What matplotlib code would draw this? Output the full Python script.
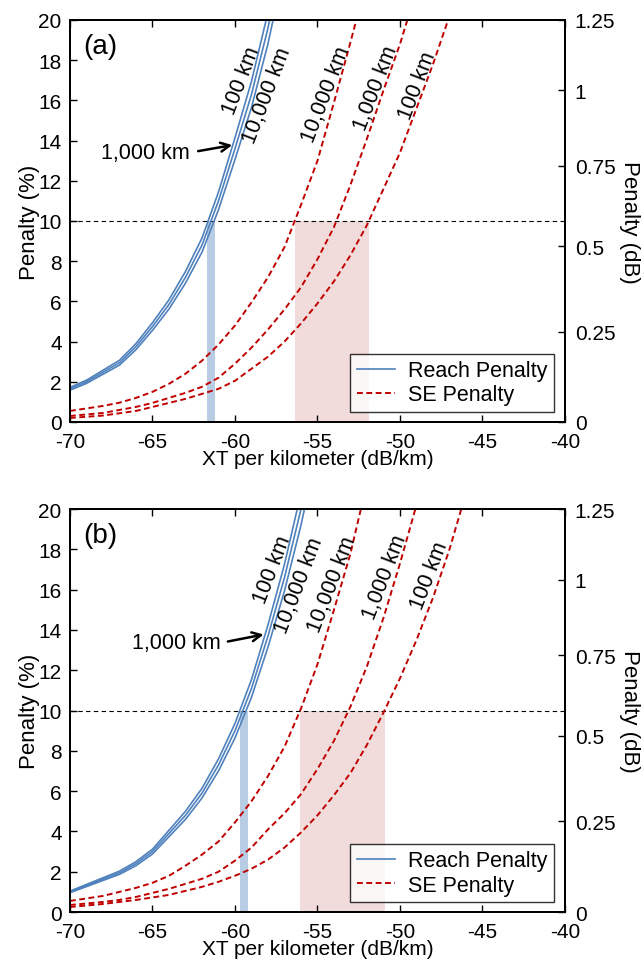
import matplotlib
matplotlib.use('Agg')
import matplotlib.pyplot as plt

plt.rcParams['font.family'] = ['Liberation Sans', 'DejaVu Sans']
plt.rcParams['axes.unicode_minus'] = False

# ---- panel (a) data ----
xt_reach_a = [-70, -69, -67, -66, -65, -64, -63, -62, -61, -60, -59, -58, -57.5]
reach_a_100 = [1.72, 2.08, 3.07, 3.9, 4.94, 6.08, 7.49, 9.15, 11.44, 14.14, 16.95, 20.38, 22.46]
reach_a_1000 = [1.65, 2.0, 2.95, 3.75, 4.75, 5.85, 7.2, 8.8, 11.0, 13.6, 16.3, 19.6, 21.6]
reach_a_10000 = [1.58, 1.92, 2.83, 3.6, 4.56, 5.62, 6.91, 8.45, 10.56, 13.06, 15.65, 18.82, 20.74]

xt_se_a_10000 = [-70, -68, -67, -66, -65, -64, -63, -62, -61, -60, -59, -58, -57, -56, -55, -54, -53, -52]
se_a_10000 = [0.55, 0.8, 0.96, 1.2, 1.5, 1.9, 2.4, 3.05, 3.85, 4.8, 5.95, 7.2, 8.7, 10.8, 13.0, 15.9, 18.9, 22.0]
xt_se_a_1000 = [-70, -68, -66, -65, -64, -63, -62, -61, -60, -59, -58, -57, -56, -55, -54, -53, -52, -51, -50, -49]
se_a_1000 = [0.3, 0.45, 0.75, 0.95, 1.2, 1.45, 1.75, 2.2, 2.9, 3.7, 4.6, 5.6, 6.7, 8.1, 9.7, 11.8, 14.1, 16.5, 18.8, 21.5]
xt_se_a_100 = [-70, -68, -66, -65, -64, -63, -62, -61, -60, -59, -58, -57, -56, -55, -54, -53, -52, -51, -50, -49, -48, -47, -46.5]
se_a_100 = [0.2, 0.32, 0.55, 0.75, 0.95, 1.15, 1.4, 1.65, 2.05, 2.65, 3.25, 4.0, 4.9, 5.9, 7.0, 8.3, 9.8, 11.6, 13.4, 15.6, 17.8, 20.2, 21.4]

reach_band_a = [-61.72, -61.21]
se_band_a = [-56.36, -51.86]

# ---- panel (b) data ----
xt_reach_b = [-70, -67, -66, -65, -64, -63, -62, -61, -60, -59, -58, -57, -56, -55.5]
reach_b_100 = [1.04, 2.03, 2.5, 3.12, 4.06, 5.0, 6.14, 7.6, 9.36, 11.54, 14.25, 17.26, 20.8, 22.9]
reach_b_1000 = [1.0, 1.95, 2.4, 3.0, 3.9, 4.8, 5.9, 7.3, 9.0, 11.1, 13.7, 16.6, 20.0, 22.0]
reach_b_10000 = [0.96, 1.87, 2.3, 2.88, 3.74, 4.6, 5.66, 7.0, 8.64, 10.66, 13.15, 15.94, 19.2, 21.1]

xt_se_b_10000 = [-70, -68, -67, -66, -65, -64, -63, -62, -61, -60, -59, -58, -57, -56, -55, -54, -53, -52]
se_b_10000 = [0.55, 0.8, 1.0, 1.2, 1.45, 1.8, 2.3, 2.85, 3.5, 4.45, 5.5, 6.75, 8.2, 10.1, 12.3, 15.0, 17.8, 21.3]
xt_se_b_1000 = [-70, -68, -67, -66, -65, -64, -63, -62, -61, -60, -59, -58, -57, -56, -55, -54, -53, -52, -51, -50, -49]
se_b_1000 = [0.35, 0.5, 0.6, 0.75, 0.95, 1.15, 1.4, 1.65, 2.0, 2.55, 3.2, 4.1, 4.9, 5.85, 7.1, 8.5, 10.2, 12.2, 14.6, 17.3, 20.2]
xt_se_b_100 = [-70, -68, -66, -64, -63, -62, -61, -60, -59, -58, -57, -56, -55, -54, -53, -52, -51, -50, -49, -48, -47, -46]
se_b_100 = [0.25, 0.4, 0.6, 0.85, 1.05, 1.25, 1.5, 1.8, 2.15, 2.6, 3.2, 3.95, 4.8, 5.8, 6.9, 8.3, 9.9, 11.6, 13.5, 15.6, 18.0, 20.8]

reach_band_b = [-59.7, -59.23]
se_band_b = [-56.06, -50.9]

threshold = 10
x_ticks = [-70, -65, -60, -55, -50, -45, -40]
y_ticks = [0, 2, 4, 6, 8, 10, 12, 14, 16, 18, 20]
db_tick_pos = [0, 4.5, 8.75, 12.75, 16.5, 20]
db_tick_labels = ['0', '0.25', '0.5', '0.75', '1', '1.25']

# label positions (xt, penalty)
labels_a = [('100 km', -59.6, 17.0), ('10,000 km', -58.05, 16.25),
            ('10,000 km', -54.45, 16.3), ('1,000 km', -51.45, 16.65), ('100 km', -48.95, 16.75)]
labels_b = [('100 km', -57.7, 17.0), ('10,000 km', -56.1, 16.25),
            ('10,000 km', -54.1, 16.3), ('1,000 km', -50.9, 16.65), ('100 km', -48.2, 16.75)]

BLUE = '#4F81BD'
RED = '#C00000'


def draw_panel(ax, tag, xt_reach, reach, xt_se, se, reach_band, se_band, labels, arrow):
    ax.axvspan(se_band[0], se_band[1], ymin=0, ymax=threshold / 20, color='#F2DCDB', lw=0, zorder=0)
    ax.axvspan(reach_band[0], reach_band[1], ymin=0, ymax=threshold / 20, color='#B8CCE4', lw=0, zorder=0)
    ax.axhline(threshold, color='black', lw=0.8, ls=(0, (4, 3)), zorder=1)

    for i, r in enumerate(reach):
        ax.plot(xt_reach, r, color=BLUE, lw=1.2, zorder=3,
                label='Reach Penalty' if i == 0 else None)
    for i, (x, s) in enumerate(zip(xt_se, se)):
        ax.plot(x, s, color=RED, lw=1.4, ls=(0, (3, 1.8)), zorder=3,
                label='SE Penalty' if i == 0 else None)

    for txt, x, y in labels:
        ax.text(x, y, txt, rotation=69, ha='center', va='center', fontsize=15.5, zorder=4)

    txt_xy, tail, head = arrow
    ax.text(txt_xy[0], txt_xy[1], '1,000 km', ha='center', va='center', fontsize=15.5)
    ax.annotate('', xy=head, xytext=tail,
                arrowprops=dict(arrowstyle='->', color='black', lw=1.8, mutation_scale=16))

    ax.text(0.062, 0.935, tag, transform=ax.transAxes, ha='center', va='center', fontsize=20)

    ax.set_xlim(-70, -40)
    ax.set_ylim(0, 20)
    ax.set_xticks(x_ticks)
    ax.set_yticks(y_ticks)
    ax.tick_params(direction='in', length=5, width=1, labelsize=15, top=True)
    ax.tick_params(axis='x', pad=7)
    ax.tick_params(axis='y', pad=6)
    ax.set_xlabel('XT per kilometer (dB/km)', fontsize=15, labelpad=-1)
    ax.set_ylabel('Penalty (%)', fontsize=16, labelpad=-1)
    for sp in ax.spines.values():
        sp.set_linewidth(1.4)

    leg = ax.legend(loc='lower right', bbox_to_anchor=(0.978, 0.025), borderaxespad=0,
                    fontsize=15.5, frameon=True, fancybox=False, handlelength=1.8,
                    handletextpad=0.6, borderpad=0.3, labelspacing=0.15)
    leg.get_frame().set_edgecolor('black')
    leg.get_frame().set_linewidth(1.0)

    ax2 = ax.twinx()
    ax2.set_ylim(0, 20)
    ax2.set_yticks(db_tick_pos)
    ax2.set_yticklabels(db_tick_labels)
    ax2.tick_params(direction='in', length=5, width=1, labelsize=15, pad=7)
    ax2.set_ylabel('Penalty (dB)', fontsize=16, rotation=270, labelpad=18)
    for sp in ax2.spines.values():
        sp.set_linewidth(1.4)


fig = plt.figure(figsize=(6.44, 9.62), dpi=100)
ax_a = fig.add_axes([0.1087, 0.5603, 0.7686, 0.4179])
ax_b = fig.add_axes([0.1087, 0.0509, 0.7686, 0.4189])

draw_panel(ax_a, '(a)', xt_reach_a, [reach_a_100, reach_a_1000, reach_a_10000],
           [xt_se_a_10000, xt_se_a_1000, xt_se_a_100], [se_a_10000, se_a_1000, se_a_100],
           reach_band_a, se_band_a, labels_a,
           ((-65.45, 13.4), (-62.4, 13.45), (-60.0, 13.8)))
draw_panel(ax_b, '(b)', xt_reach_b, [reach_b_100, reach_b_1000, reach_b_10000],
           [xt_se_b_10000, xt_se_b_1000, xt_se_b_100], [se_b_10000, se_b_1000, se_b_100],
           reach_band_b, se_band_b, labels_b,
           ((-63.55, 13.4), (-60.6, 13.4), (-58.1, 13.8)))

fig.savefig('out.png', dpi=100)
